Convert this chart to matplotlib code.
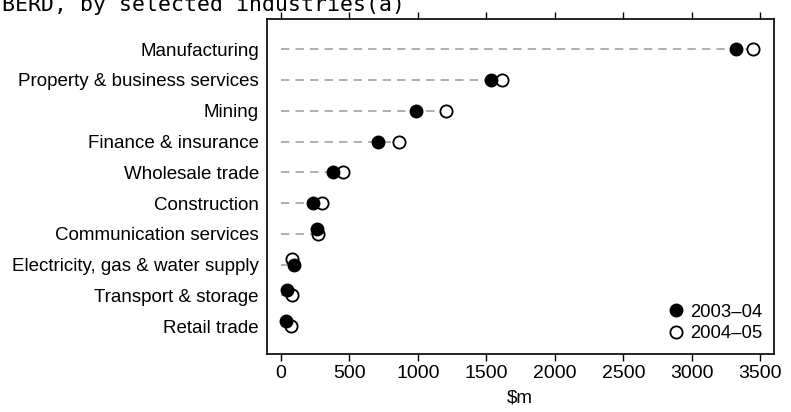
import matplotlib
matplotlib.use('Agg')
import matplotlib.pyplot as plt
from matplotlib.lines import Line2D
import numpy as np

# 数据（从图上读取，$m）
industries = ['Manufacturing', 'Property & business services', 'Mining',
              'Finance & insurance', 'Wholesale trade', 'Construction',
              'Communication services', 'Electricity, gas & water supply',
              'Transport & storage', 'Retail trade']
berd_0304 = [3324, 1534, 984, 711, 377, 236, 265, 95, 45, 40]
berd_0405 = [3450, 1612, 1205, 864, 455, 302, 270, 78, 78, 75]
xticks = [0, 500, 1000, 1500, 2000, 2500, 3000, 3500]

plt.rcParams['font.family'] = ['Liberation Sans', 'DejaVu Sans']
plt.rcParams['font.size'] = 13.5

fig = plt.figure(figsize=(7.91, 4.12), dpi=100)
ax = fig.add_axes([0.337, 0.1408, 0.6415, 0.8131])

a = np.array(berd_0304, dtype=float)
b = np.array(berd_0405, dtype=float)
y = np.arange(len(industries), dtype=float)

# 数值接近时，把较小的点往上挪一点，避免完全重叠
close = np.abs(a - b) < 50
ya = y - np.where(close & (a <= b), 0.17, 0)
yb = y - np.where(close & (b < a), 0.17, 0)

for i in range(len(industries)):
    ax.plot([0, max(a[i], b[i])], [y[i], y[i]], color='#999999', lw=1.1,
            dashes=(5.5, 4), zorder=1)

ax.plot(a, ya, 'o', ms=8.8, mfc='black', mec='black', mew=1.2, ls='none', zorder=3)
ax.plot(b, yb, 'o', ms=8.8, mfc='white', mec='black', mew=1.3, ls='none', zorder=2)

ax.set_yticks(y)
ax.set_yticklabels(industries)
ax.tick_params(axis='y', length=0, pad=5.5)
ax.set_xticks(xticks)
ax.set_xticklabels([str(v) for v in xticks], fontsize=14)
ax.tick_params(axis='x', direction='out', length=5, width=1, top=True, pad=3)
ax.set_xlim(-105, 3600)
ax.set_ylim(9.9, -0.98)
for s in ax.spines.values():
    s.set_linewidth(1.2)
ax.set_xlabel(r'\$m', labelpad=5)

handles = [Line2D([], [], marker='o', ls='none', ms=8.8, mfc='black', mec='black', mew=1.2),
           Line2D([], [], marker='o', ls='none', ms=8.8, mfc='white', mec='black', mew=1.3)]
ax.legend(handles, ['2003–04', '2004–05'], loc='lower right', frameon=False,
          fontsize=13.3, handlelength=0.8, handletextpad=0.35, labelspacing=0.22,
          borderaxespad=0.45, borderpad=0.2)

fig.text(0.002, 1 - 11 / 412, 'BERD, by selected industries(a)',
         family='DejaVu Sans Mono', fontsize=15.5, va='baseline', ha='left')

fig.savefig('out.png', dpi=100)
